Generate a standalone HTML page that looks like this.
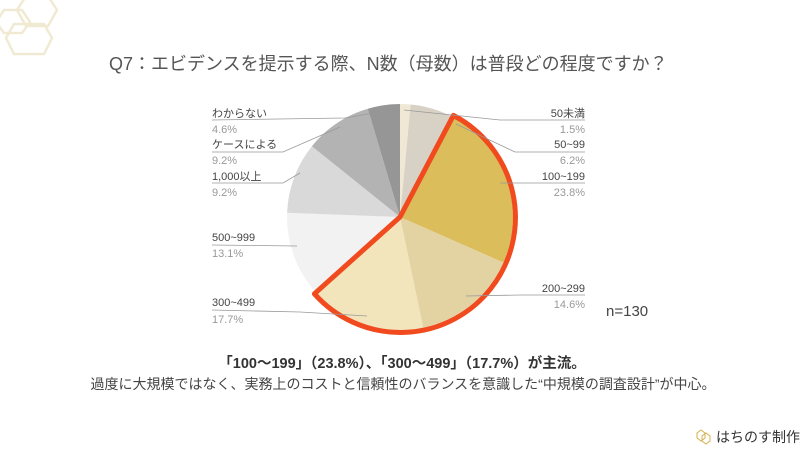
<!DOCTYPE html>
<html><head><meta charset="utf-8"><style>
body{margin:0;width:810px;height:454px;background:#fff;overflow:hidden;font-family:"Liberation Sans","Noto Sans CJK JP",sans-serif}
</style></head><body>
<svg width="810" height="454" xmlns="http://www.w3.org/2000/svg" style="position:absolute;left:0;top:0;font-family:'Liberation Sans','Noto Sans CJK JP',sans-serif">
<g fill="none" stroke="#f1ead3" stroke-width="2.5">
<polygon points="26,-4 48,-4 57,10 48,26 26,26 17,10"/>
<polygon points="4,10 22,10 30,22 22,33 4,33 -4,22"/>
<polygon points="14,24 44,24 52,38 44,54 14,54 6,38"/>
</g>
<text x="109" y="70" font-size="18" fill="#555">Q7：エビデンスを提示する際、N数（母数）は普段どの程度ですか？</text>
<g transform="translate(400,217)">
<path d="M0,0 L0,-113 A113,113 0 0,1 10.6,-112.5Z" fill="#f0e8d4"/>
<path d="M0,0 L10.6,-112.5 A113,113 0 0,1 52.5,-100.1Z" fill="#d8d2c6"/>
<path d="M0,0 L52.5,-100.1 A113,113 0 0,1 103.4,45.6Z" fill="#dbbd5c"/>
<path d="M0,0 L103.4,45.6 A113,113 0 0,1 23.2,110.6Z" fill="#e3d3a3"/>
<path d="M0,0 L23.2,110.6 A113,113 0 0,1 -84.1,75.5Z" fill="#f2e4bb"/>
<path d="M0,0 L-84.1,75.5 A113,113 0 0,1 -112.9,-4.3Z" fill="#f2f2f2"/>
<path d="M0,0 L-112.9,-4.3 A113,113 0 0,1 -88.1,-70.8Z" fill="#d9d9d9"/>
<path d="M0,0 L-88.1,-70.8 A113,113 0 0,1 -32.2,-108.3Z" fill="#b3b3b3"/>
<path d="M0,0 L-32.2,-108.3 A113,113 0 0,1 0,-113Z" fill="#969696"/>
<path d="M0,0 L53.4,-101.6 A115,115 0 1,1 -85.6,76.8Z" fill="none" stroke="#f04a1e" stroke-width="5" stroke-linejoin="round"/>
</g>
<g stroke="#999" stroke-width="0.8" fill="none">
<polyline points="212,120 345,118 385,111"/>
<polyline points="212,152 283,152 340,127"/>
<polyline points="212,183 283,183 300,173"/>
<polyline points="212,245 297,246"/>
<polyline points="212,310 300,312 367,316"/>
<polyline points="585,120 500,120 404,110"/>
<polyline points="585,152 515,152 456,124"/>
<polyline points="585,183 500,183"/>
<polyline points="585,295 520,295 466,296"/>
</g>
<g font-size="11" fill="#444">
<text x="212" y="117">わからない</text>
<text x="212" y="148">ケースによる</text>
<text x="212" y="180">1,000以上</text>
<text x="212" y="241">500~999</text>
<text x="212" y="306">300~499</text>
</g>
<g font-size="11" fill="#999">
<text x="212" y="133">4.6%</text>
<text x="212" y="164">9.2%</text>
<text x="212" y="196">9.2%</text>
<text x="212" y="257">13.1%</text>
<text x="212" y="323">17.7%</text>
</g>
<g font-size="11" fill="#444" text-anchor="end">
<text x="585" y="117">50未満</text>
<text x="585" y="148">50~99</text>
<text x="585" y="180">100~199</text>
<text x="585" y="292">200~299</text>
</g>
<g font-size="11" fill="#999" text-anchor="end">
<text x="585" y="133">1.5%</text>
<text x="585" y="164">6.2%</text>
<text x="585" y="196">23.8%</text>
<text x="585" y="308">14.6%</text>
</g>
<text x="606" y="316" font-size="15" fill="#444">n=130</text>
<text x="402" y="368" font-size="14.5" font-weight="bold" fill="#333" text-anchor="middle">「100～199」（23.8%）、「300～499」（17.7%）が主流。</text>
<text x="403" y="389" font-size="14" fill="#444" text-anchor="middle">過度に大規模ではなく、実務上のコストと信頼性のバランスを意識した“中規模の調査設計”が中心。</text>
<g fill="none" stroke="#d4b04a" stroke-width="1">
<polygon points="697,433 701,430 705,433 705,438 701,441 697,438"/>
<polygon points="702,436 706,433 710,436 710,441 706,444 702,441"/>
</g>
<text x="716" y="442" font-size="14" fill="#333">はちのす制作</text>
</svg>
</body></html>
